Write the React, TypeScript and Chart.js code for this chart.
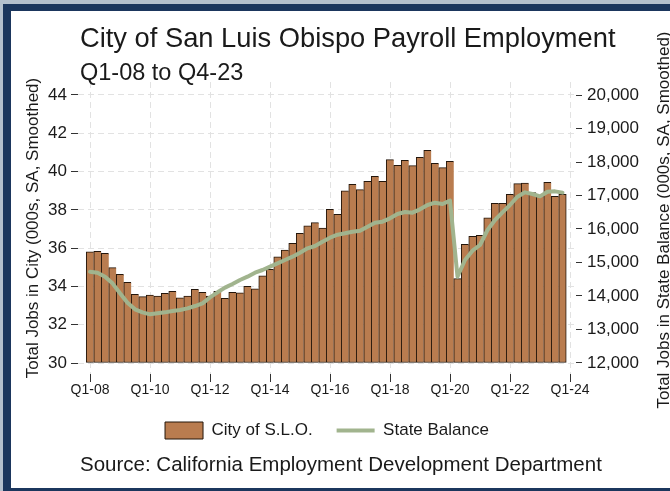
import React, { useEffect, useRef } from 'react';
import { Chart, registerables } from 'chart.js';

Chart.register(...registerables);

const quarters = [
  'Q1-08', 'Q2-08', 'Q3-08', 'Q4-08', 'Q1-09', 'Q2-09', 'Q3-09', 'Q4-09',
  'Q1-10', 'Q2-10', 'Q3-10', 'Q4-10', 'Q1-11', 'Q2-11', 'Q3-11', 'Q4-11',
  'Q1-12', 'Q2-12', 'Q3-12', 'Q4-12', 'Q1-13', 'Q2-13', 'Q3-13', 'Q4-13',
  'Q1-14', 'Q2-14', 'Q3-14', 'Q4-14', 'Q1-15', 'Q2-15', 'Q3-15', 'Q4-15',
  'Q1-16', 'Q2-16', 'Q3-16', 'Q4-16', 'Q1-17', 'Q2-17', 'Q3-17', 'Q4-17',
  'Q1-18', 'Q2-18', 'Q3-18', 'Q4-18', 'Q1-19', 'Q2-19', 'Q3-19', 'Q4-19',
  'Q1-20', 'Q2-20', 'Q3-20', 'Q4-20', 'Q1-21', 'Q2-21', 'Q3-21', 'Q4-21',
  'Q1-22', 'Q2-22', 'Q3-22', 'Q4-22', 'Q1-23', 'Q2-23', 'Q3-23', 'Q4-23',
];

const xTickLabels = ['Q1-08', 'Q1-10', 'Q1-12', 'Q1-14', 'Q1-16', 'Q1-18', 'Q1-20', 'Q1-22', 'Q1-24'];
const leftTicks = [30, 32, 34, 36, 38, 40, 42, 44];
const rightTicks = [12000, 13000, 14000, 15000, 16000, 17000, 18000, 19000, 20000];

// City of S.L.O. payroll jobs (000s)
const cityJobs = [
  35.81, 35.83, 35.73, 34.98, 34.63, 34.21, 33.59, 33.47, 33.55, 33.5,
  33.64, 33.74, 33.41, 33.5, 33.85, 33.69, 33.5, 33.74, 33.38, 33.69,
  33.67, 34.0, 33.88, 34.55, 34.89, 35.55, 35.9, 36.25, 36.78, 37.16,
  37.33, 37.05, 38.03, 37.77, 38.99, 39.34, 39.06, 39.49, 39.75, 39.49,
  40.62, 40.33, 40.59, 40.31, 40.75, 41.11, 40.43, 40.21, 40.54, 34.41,
  36.2, 36.62, 36.67, 37.58, 38.34, 38.34, 38.81, 39.37, 39.4, 38.9,
  38.73, 39.44, 38.71, 38.81,
];

// State balance payroll jobs (000s)
const stateBalance = [
  14726, 14696, 14577, 14378, 14080, 13801, 13602, 13512, 13453, 13483,
  13512, 13552, 13582, 13632, 13701, 13781, 13960, 14110, 14249, 14358,
  14478, 14577, 14696, 14776, 14876, 14975, 15075, 15174, 15294, 15423,
  15493, 15622, 15740, 15830, 15871, 15920, 15950, 16070, 16189, 16219,
  16319, 16448, 16507, 16488, 16587, 16716, 16786, 16746, 16846, 14577,
  15075, 15353, 15522, 15970, 16269, 16498, 16716, 16965, 17094, 17045,
  16975, 17114, 17124, 17085,
];

const seriesNames = ['City of S.L.O.', 'State Balance'];
const titleText = 'City of San Luis Obispo Payroll Employment';
const subtitleText = 'Q1-08 to Q4-23';
const sourceText = 'Source: California Employment Development Department';
const leftAxisTitle = 'Total Jobs in City (000s, SA, Smoothed)';
const rightAxisTitle = 'Total Jobs in State Balance (000s, SA, Smoothed)';

const FONT = "'Liberation Sans', Arial, Helvetica, sans-serif";
const NAVY = '#1b365d';
const BAR_FILL = '#b97c4f';
const BAR_EDGE = '#24160b';
const LINE_GREEN = '#a1b48e';
const GRID = '#e2e2e2';
const TEXT = '#1a1a1a';

export default function App() {
  const canvasRef = useRef<HTMLCanvasElement | null>(null);

  useEffect(() => {
    document.body.style.margin = '0';
    const canvas = canvasRef.current;
    if (!canvas) return;

    const rightTitlePlugin = {
      id: 'rightTitle',
      afterDraw(chart: any) {
        const c = chart.ctx;
        c.save();
        c.translate(664, 220);
        c.rotate(-Math.PI / 2);
        c.font = `17px ${FONT}`;
        c.fillStyle = TEXT;
        c.textAlign = 'center';
        c.textBaseline = 'middle';
        c.fillText(rightAxisTitle, 0, 0);
        c.restore();
      },
    };

    const chart = new Chart(canvas, {
      type: 'bar',
      data: {
        labels: quarters,
        datasets: [
          {
            type: 'bar',
            label: seriesNames[0],
            data: cityJobs.map((v, i) => ({ x: i, y: v })),
            yAxisID: 'y',
            base: 30,
            backgroundColor: BAR_FILL,
            borderColor: BAR_EDGE,
            borderWidth: (c: any) => ({
              left: 1,
              top: 1,
              bottom: 1,
              right: c.dataIndex === cityJobs.length - 1 ? 1 : 0,
            }),
            borderSkipped: false,
            barPercentage: 1,
            categoryPercentage: 1,
            order: 2,
          } as any,
          {
            type: 'line',
            label: seriesNames[1],
            data: stateBalance.map((v, i) => ({ x: i, y: v })),
            yAxisID: 'y2',
            borderColor: LINE_GREEN,
            backgroundColor: LINE_GREEN,
            borderWidth: 4,
            pointRadius: 0,
            tension: 0,
            borderJoinStyle: 'round',
            borderCapStyle: 'round',
            order: 1,
          } as any,
        ],
      },
      options: {
        responsive: false,
        animation: false,
        devicePixelRatio: 1,
        events: [],
        layout: { padding: { left: 23, top: 82, right: 0, bottom: 42 } },
        scales: {
          x: {
            type: 'linear',
            offset: false,
            min: -1.6,
            max: 64.8,
            afterBuildTicks: (s: any) => {
              s.ticks = xTickLabels.map((_, i) => ({ value: i * 8 }));
            },
            afterFit: (s: any) => { s.height = 24; },
            grid: {
              offset: false,
              color: GRID,
              lineWidth: 1,
              tickColor: '#333',
              tickLength: 8,
              tickWidth: 1,
            },
            border: { display: false, dash: [6, 4] },
            ticks: {
              autoSkip: false,
              maxRotation: 0,
              padding: 1,
              color: TEXT,
              font: { family: FONT, size: 14, lineHeight: 1 },
              callback: (v: any) => {
                const i = Math.round(Number(v) / 8);
                return xTickLabels[i] ?? '';
              },
            },
          },
          y: {
            type: 'linear',
            position: 'left',
            min: 29.4254,
            max: 44.6791,
            afterBuildTicks: (s: any) => {
              s.ticks = leftTicks.map((v) => ({ value: v }));
            },
            afterFit: (s: any) => { s.width = 55; },
            grid: {
              color: GRID,
              lineWidth: 1,
              tickColor: '#333',
              tickLength: 7,
            },
            border: { display: false, dash: [6, 4] },
            ticks: {
              padding: 4,
              color: TEXT,
              font: { family: FONT, size: 17 },
            },
            title: {
              display: true,
              text: leftAxisTitle,
              color: TEXT,
              font: { family: FONT, size: 17 },
              padding: 0,
            },
          },
          y2: {
            type: 'linear',
            position: 'right',
            min: 11671.6,
            max: 20388.1,
            afterBuildTicks: (s: any) => {
              s.ticks = rightTicks.map((v) => ({ value: v }));
            },
            afterFit: (s: any) => { s.width = 94; },
            grid: {
              drawOnChartArea: false,
              tickColor: '#333',
              tickLength: 6,
            },
            border: { display: false },
            ticks: {
              padding: 5,
              color: TEXT,
              font: { family: FONT, size: 17 },
              callback: (v: any) => Number(v).toLocaleString('en-US'),
            },
          },
        },
        plugins: {
          title: { display: false },
          tooltip: { enabled: false },
          legend: {
            display: true,
            position: 'bottom',
            fullSize: false,
            labels: {
              usePointStyle: true,
              pointStyleWidth: 38,
              boxHeight: 17,
              padding: 24,
              color: TEXT,
              font: { family: FONT, size: 17 },
              sort: (a: any, b: any) => a.datasetIndex - b.datasetIndex,
              generateLabels: (ch: any) => {
                const items = Chart.defaults.plugins.legend.labels.generateLabels(ch);
                return items.map((it: any) => {
                  if (it.datasetIndex === 0) {
                    return { ...it, pointStyle: 'rect', fillStyle: BAR_FILL, strokeStyle: BAR_EDGE, lineWidth: 1 };
                  }
                  return { ...it, pointStyle: 'line', fillStyle: LINE_GREEN, strokeStyle: LINE_GREEN, lineWidth: 4 };
                });
              },
            },
          },
        },
      } as any,
      plugins: [rightTitlePlugin],
    });

    return () => chart.destroy();
  }, []);

  const textBase: React.CSSProperties = {
    position: 'absolute',
    whiteSpace: 'nowrap',
    fontFamily: FONT,
    color: TEXT,
    margin: 0,
  };

  return (
    <div style={{ position: 'relative', width: 670, height: 491, overflow: 'hidden', background: '#ffffff' }}>
      <canvas ref={canvasRef} width={670} height={491} style={{ position: 'absolute', left: 0, top: 0, width: 670, height: 491 }} />
      <div style={{ position: 'absolute', left: 0, top: 0, width: 670, height: 4, background: '#b4c0cd' }} />
      <div style={{ position: 'absolute', left: 0, top: 0, width: 3, height: 491, background: '#b4c0cd' }} />
      <div style={{ position: 'absolute', left: 3, top: 4, width: 667, height: 7, background: NAVY }} />
      <div style={{ position: 'absolute', left: 3, top: 4, width: 8, height: 487, background: NAVY }} />
      <div style={{ position: 'absolute', left: 3, top: 488, width: 667, height: 3, background: NAVY }} />
      <div style={{ ...textBase, left: 80, top: 24, fontSize: 27.3, lineHeight: '27px' }}>{titleText}</div>
      <div style={{ ...textBase, left: 80, top: 60.5, fontSize: 23.5, lineHeight: '23px' }}>{subtitleText}</div>
      <div style={{ ...textBase, left: 80, top: 453.5, fontSize: 20.5, lineHeight: '20.5px' }}>{sourceText}</div>
    </div>
  );
}
